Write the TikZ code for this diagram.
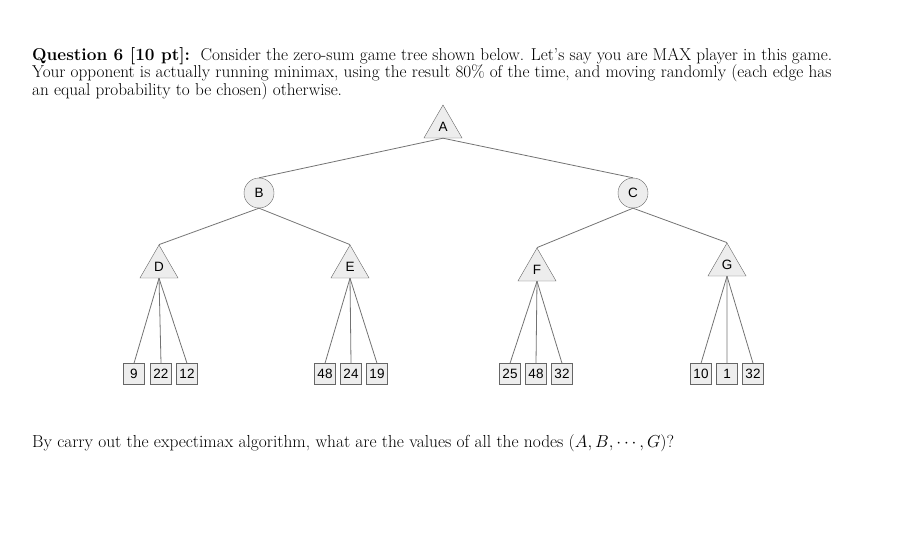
\documentclass[tikz,border=0pt]{standalone}
\usepackage{fontspec}
\usetikzlibrary{shapes.geometric}
\newfontfamily\arialf{Liberation Sans}
\begin{document}
\begin{tikzpicture}[x=1pt,y=-1pt,
  tri/.style={regular polygon,regular polygon sides=3,minimum size=44pt,inner sep=0pt,draw=black!60,fill=black!7,font=\arialf\fontsize{13.5}{14}\selectfont,text depth=0pt},
  chance/.style={circle,minimum size=30pt,inner sep=0pt,draw=black!60,fill=black!7,font=\arialf\fontsize{13.5}{14}\selectfont},
  leaf/.style={rectangle,minimum width=21pt,minimum height=21pt,inner sep=0pt,draw=black!60,fill=black!7,font=\arialf\fontsize{13.5}{14}\selectfont},
  edge/.style={draw=black!55,line width=0.8pt},
  txt/.style={anchor=north west,inner sep=0pt,align=left,font=\fontsize{17.2}{17.5}\selectfont}]
\useasboundingbox (0,0) rectangle (916,551);
\node[txt] (q) at (32,47) {\textbf{Question 6 [10 pt]:}\ \ Consider the zero-sum game tree shown below. Let's say you are MAX player in this game.\\ Your opponent is actually running minimax, using the result 80\% of the time, and moving randomly (each edge has\\ an equal probability to be chosen) otherwise.};
\node[tri] (A) at (443,127) {A};
\node[chance] (B) at (259,193) {B};
\node[chance] (C) at (633,193) {C};
\node[tri] (D) at (159,267) {D};
\node[tri] (E) at (350,267) {E};
\node[tri] (F) at (537,270) {F};
\node[tri] (G) at (727,265) {G};
\foreach \n/\x/\v in {d1/134/9,d2/161/22,d3/187/12,e1/325/48,e2/351/24,e3/377/19,f1/510/25,f2/536/48,f3/562/32,g1/701/10,g2/727/1,g3/753/32}
  \node[leaf] (\n) at (\x,374) {\v};
\draw[edge] (A.south) -- (B.north);
\draw[edge] (A.south) -- (C.north);
\draw[edge] (B.south) -- (D.north);
\draw[edge] (B.south) -- (E.north);
\draw[edge] (C.south) -- (F.north);
\draw[edge] (C.south) -- (G.north);
\foreach \p/\c in {D/d,E/e,F/f,G/g}{
  \draw[edge] (\p.south) -- (\c1.north);
  \draw[edge] (\p.south) -- (\c2.north);
  \draw[edge] (\p.south) -- (\c3.north);}
\node[anchor=base west,inner sep=0pt,font=\fontsize{17.4}{17.5}\selectfont] (b) at (32,447) {By carry out the expectimax algorithm, what are the values of all the nodes $(A,B,\cdots,G)$?};
\end{tikzpicture}
\end{document}
